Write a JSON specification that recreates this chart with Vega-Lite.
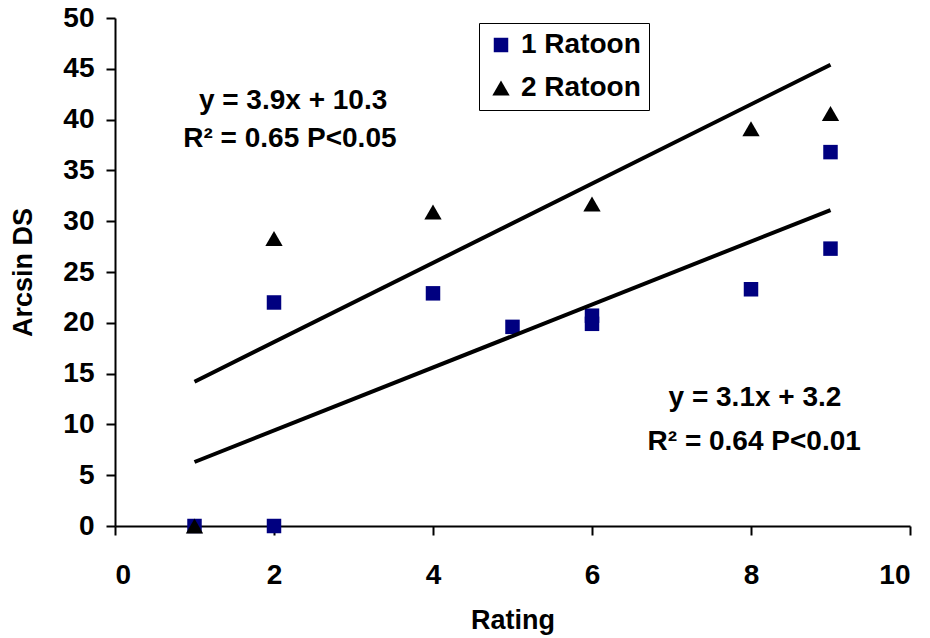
{
  "$schema": "https://vega.github.io/schema/vega-lite/v6.json",
  "autosize": {"type": "none"},
  "padding": {"left": 115, "top": 18, "right": 20, "bottom": 112},
  "width": 795,
  "height": 508,
  "background": "white",
  "config": {
    "view": {"stroke": null},
    "font": "Liberation Sans",
    "axis": {
      "grid": false,
      "domainColor": "black",
      "domainWidth": 2,
      "tickColor": "black",
      "tickWidth": 2,
      "tickSize": 9,
      "labelFont": "Liberation Sans",
      "labelFontWeight": "bold",
      "labelFontSize": 28,
      "labelColor": "black",
      "titleFont": "Liberation Sans",
      "titleFontWeight": "bold",
      "titleFontSize": 27,
      "titleColor": "black"
    }
  },
  "datasets": {
    "pts": [
      {"Rating": 1, "ArcsinDS": 0, "Series": "1 Ratoon"},
      {"Rating": 2, "ArcsinDS": 0, "Series": "1 Ratoon"},
      {"Rating": 2, "ArcsinDS": 22.0, "Series": "1 Ratoon"},
      {"Rating": 4, "ArcsinDS": 22.9, "Series": "1 Ratoon"},
      {"Rating": 5, "ArcsinDS": 19.6, "Series": "1 Ratoon"},
      {"Rating": 6, "ArcsinDS": 20.7, "Series": "1 Ratoon"},
      {"Rating": 6, "ArcsinDS": 19.9, "Series": "1 Ratoon"},
      {"Rating": 8, "ArcsinDS": 23.3, "Series": "1 Ratoon"},
      {"Rating": 9, "ArcsinDS": 36.8, "Series": "1 Ratoon"},
      {"Rating": 9, "ArcsinDS": 27.3, "Series": "1 Ratoon"},
      {"Rating": 1, "ArcsinDS": 0, "Series": "2 Ratoon"},
      {"Rating": 2, "ArcsinDS": 28.3, "Series": "2 Ratoon"},
      {"Rating": 4, "ArcsinDS": 30.9, "Series": "2 Ratoon"},
      {"Rating": 6, "ArcsinDS": 31.7, "Series": "2 Ratoon"},
      {"Rating": 8, "ArcsinDS": 39.1, "Series": "2 Ratoon"},
      {"Rating": 9, "ArcsinDS": 40.6, "Series": "2 Ratoon"}
    ],
    "fits": [
      {"Rating": 1, "ArcsinDS": 14.2, "Fit": "2 Ratoon fit"},
      {"Rating": 9, "ArcsinDS": 45.4, "Fit": "2 Ratoon fit"},
      {"Rating": 1, "ArcsinDS": 6.3, "Fit": "1 Ratoon fit"},
      {"Rating": 9, "ArcsinDS": 31.1, "Fit": "1 Ratoon fit"}
    ],
    "notes": [
      {"Rating": 2.24, "ArcsinDS": 41.8, "Label": "y = 3.9x + 10.3"},
      {"Rating": 2.2, "ArcsinDS": 38.1, "Label": "R² = 0.65 P<0.05"},
      {"Rating": 8.05, "ArcsinDS": 12.6, "Label": "y = 3.1x + 3.2"},
      {"Rating": 8.04, "ArcsinDS": 8.3, "Label": "R² = 0.64 P<0.01"}
    ]
  },
  "layer": [
    {
      "data": {"name": "pts"},
      "mark": {"type": "point", "filled": true, "opacity": 1, "strokeWidth": 0},
      "encoding": {
        "x": {
          "field": "Rating", "type": "quantitative",
          "scale": {"domain": [0, 10], "nice": false},
          "axis": {"values": [0, 2, 4, 6, 8, 10], "format": "d", "title": "Rating", "labelPadding": 26, "titlePadding": 18}
        },
        "y": {
          "field": "ArcsinDS", "type": "quantitative",
          "scale": {"domain": [0, 50], "nice": false},
          "axis": {"values": [0, 5, 10, 15, 20, 25, 30, 35, 40, 45, 50], "format": "d", "title": "Arcsin DS", "labelPadding": 12, "titlePadding": 25}
        },
        "color": {
          "field": "Series", "type": "nominal",
          "scale": {"domain": ["1 Ratoon", "2 Ratoon"], "range": ["#000080", "#000000"]},
          "legend": {
            "title": null,
            "orient": "none",
            "legendX": 364,
            "legendY": 5,
            "padding": 8,
            "strokeColor": "black",
            "fillColor": "white",
            "labelFont": "Liberation Sans",
            "labelFontWeight": "bold",
            "labelFontSize": 28,
            "labelColor": "black",
            "rowPadding": 15,
            "labelOffset": 6,
            "symbolStrokeWidth": 0
          }
        },
        "shape": {
          "field": "Series", "type": "nominal",
          "scale": {"domain": ["1 Ratoon", "2 Ratoon"], "range": ["square", "triangle-up"]}
        },
        "size": {
          "field": "Series", "type": "nominal",
          "scale": {"domain": ["1 Ratoon", "2 Ratoon"], "range": [210, 300]}
        }
      }
    },
    {
      "data": {"name": "fits"},
      "mark": {"type": "line", "color": "black", "strokeWidth": 4},
      "encoding": {
        "x": {"field": "Rating", "type": "quantitative"},
        "y": {"field": "ArcsinDS", "type": "quantitative"},
        "detail": {"field": "Fit", "type": "nominal"}
      }
    },
    {
      "data": {"name": "notes"},
      "mark": {"type": "text", "font": "Liberation Sans", "fontWeight": "bold", "fontSize": 28, "color": "black", "align": "center", "baseline": "middle"},
      "encoding": {
        "x": {"field": "Rating", "type": "quantitative"},
        "y": {"field": "ArcsinDS", "type": "quantitative"},
        "text": {"field": "Label", "type": "nominal"}
      }
    }
  ]
}
